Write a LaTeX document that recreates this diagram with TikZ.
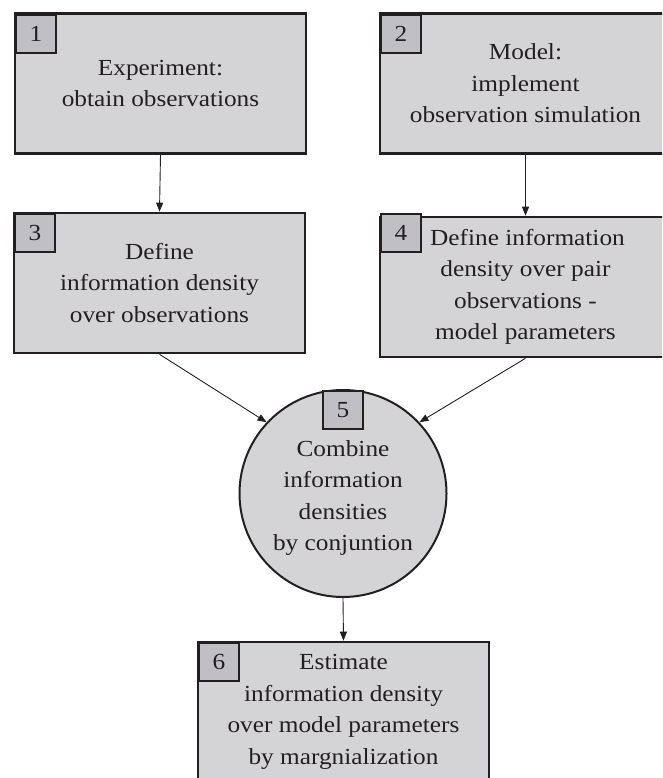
\documentclass[tikz,border=0pt]{standalone}
\usepackage{fontspec}
\setmainfont[FakeStretch=1.1]{Liberation Serif}
\usetikzlibrary{arrows.meta}
\definecolor{boxfill}{RGB}{212,212,214}
\definecolor{numfill}{RGB}{192,192,196}
\definecolor{ink}{RGB}{35,31,32}
\begin{document}
\begin{tikzpicture}[x=1pt,y=-1pt,
  every node/.style={font=\fontsize{23}{31.5}\selectfont, text=ink},
  stepbox/.style={draw=ink, line width=2.6pt, fill=boxfill, minimum width=291pt, minimum height=140pt, align=center, inner sep=0pt},
  numbox/.style={draw=ink, line width=2pt, fill=numfill, minimum width=40pt, minimum height=38pt, inner sep=0pt, anchor=north west},
  conn/.style={draw=ink, line width=0.9pt, -{Triangle[length=9pt,width=7pt]}}]
\useasboundingbox (0,0) rectangle (662,778);
\clip (0,0) rectangle (662,778);
% boxes
\node[stepbox] (b1) at (160.5,83.5) {Experiment:\\obtain observations};
\node[numbox] (n1) at (15,14) {1};
\node[stepbox] (b2) at (525.5,83.5) {Model:\\implement\\observation simulation};
\node[numbox] (n2) at (380,14) {2};
\node[stepbox] (b3) at (159.5,283) {Define\\information density\\over observations};
\node[numbox] (n3) at (14,213) {3};
\node[stepbox] (b4) at (525.5,287) {\hspace*{4pt}Define information\\density over pair\\observations -\\model parameters};
\node[numbox] (n4) at (380,213) {4};
\node[draw=ink, line width=2pt, fill=boxfill, circle, minimum size=207pt, inner sep=0pt, align=center] (c5) at (343,493.5) {};
\node[align=center, inner sep=0pt] (t5) at (343,498) {Combine\\information\\densities\\by conjuntion};
\node[numbox, anchor=north] (n5) at (343,390) {5};
\node[stepbox] (b6) at (343.5,712) {Estimate\\information density\\over model parameters\\by margnialization};
\node[numbox] (n6) at (198,642) {6};
% connectors
\draw[conn] (b1.south) -- (b3.north);
\draw[conn] (b2.south) -- (b4.north);
\draw[conn] (b3.south) -- (c5.137);
\draw[conn] (b4.south) -- (c5.43);
\draw[conn] (c5.south) -- (b6.north);
\end{tikzpicture}
\end{document}
